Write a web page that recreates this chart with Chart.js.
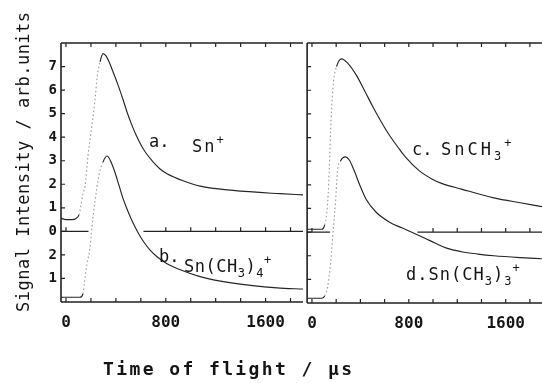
<!DOCTYPE html>
<html>
<head>
<meta charset="utf-8">
<script src="https://cdn.jsdelivr.net/npm/chart.js@4.4.1/dist/chart.umd.min.js"></script>
<style>
html,body{margin:0;padding:0;background:#fff;}
body{width:542px;height:383px;position:relative;overflow:hidden;}
canvas{position:absolute;top:0;}
#cLeft{left:0;width:310px;height:383px;}
#cRight{left:296px;width:246px;height:383px;}
.t{position:absolute;white-space:nowrap;font-family:"DejaVu Sans Mono",monospace;color:#141414;line-height:20px;font-size:17px;}
.sub{font-size:12px;position:relative;top:5px;}
.sup{font-size:12px;position:relative;top:-8px;}
#ytitle{left:-127px;top:152px;width:300px;text-align:center;transform:rotate(-90deg);letter-spacing:0.5px;}
#xtitle{left:103px;top:359px;font-size:18px;letter-spacing:2.4px;font-weight:bold;}
</style>
</head>
<body>
<canvas id="cLeft" width="310" height="383"></canvas>
<canvas id="cRight" width="246" height="383"></canvas>
<div class="t" id="ytitle">Signal Intensity / arb.units</div>
<div class="t" id="xtitle">Time of flight / µs</div>
<div class="t" style="left:149px;top:131px;">a.</div>
<div class="t" style="left:192px;top:136px;letter-spacing:2px;">Sn<span class="sup">+</span></div>
<div class="t" style="left:159px;top:246px;">b.</div>
<div class="t" style="left:184px;top:256px;letter-spacing:0.5px;">Sn(CH<span class="sub">3</span>)<span class="sub">4</span><span class="sup">+</span></div>
<div class="t" style="left:412px;top:139px;">c.</div>
<div class="t" style="left:441px;top:139px;letter-spacing:3px;">SnCH<span class="sub">3</span><span class="sup">+</span></div>
<div class="t" style="left:406px;top:264px;letter-spacing:1px;">d.Sn(CH<span class="sub">3</span>)<span class="sub">3</span><span class="sup">+</span></div>
<script>
// ---- data (time in µs, signal in arb. units) ----
// a. Sn+ (upper left panel)
const TIME_A   = [-40, 0, 48, 80, 104, 120, 136, 152, 176, 200, 233, 249, 273, 297, 321, 345, 377, 417, 457, 497, 529, 561, 593, 634, 698, 754, 810, 938, 1075, 1339, 1716, 1900];
const SIGNAL_A = [0.55, 0.5, 0.5, 0.55, 0.7, 1.1, 1.6, 1.9, 3.2, 4.2, 5.6, 6.5, 7.2, 7.55, 7.45, 7.2, 6.78, 6.22, 5.6, 4.95, 4.5, 4.1, 3.75, 3.38, 2.95, 2.65, 2.45, 2.15, 1.92, 1.74, 1.6, 1.55];
// b. Sn(CH3)4+ (lower left panel, own zero)
const TIME_B   = [-40, 0, 112, 136, 152, 168, 192, 208, 233, 265, 297, 329, 361, 393, 425, 457, 489, 521, 553, 585, 617, 674, 730, 810, 890, 1075, 1339, 1692, 1900];
const SIGNAL_B = [0.2, 0.2, 0.2, 0.35, 1.0, 1.6, 2.3, 3.2, 4.3, 5.4, 5.95, 6.2, 5.95, 5.5, 4.95, 4.4, 3.95, 3.55, 3.2, 2.88, 2.6, 2.2, 1.92, 1.62, 1.42, 1.08, 0.8, 0.6, 0.55];
// c. SnCH3+ (upper right panel)
const TIME_C   = [-40, 0, 81, 105, 122, 138, 154, 162, 179, 203, 244, 300, 365, 438, 503, 568, 633, 706, 771, 885, 990, 1071, 1234, 1502, 1721, 1899];
const SIGNAL_C = [0.12, 0.12, 0.12, 0.3, 0.8, 2.0, 4.3, 5.2, 6.4, 7.0, 7.33, 7.12, 6.65, 5.95, 5.3, 4.7, 4.15, 3.62, 3.18, 2.6, 2.25, 2.06, 1.82, 1.45, 1.24, 1.08];
// d. Sn(CH3)3+ (lower right panel, own zero)
const TIME_D   = [-40, 0, 81, 105, 130, 154, 179, 195, 211, 235, 276, 308, 341, 398, 446, 528, 641, 747, 852, 933, 1015, 1112, 1234, 1372, 1502, 1721, 1899];
const SIGNAL_D = [0.2, 0.2, 0.2, 0.3, 0.7, 1.7, 3.3, 4.3, 5.6, 6.0, 6.18, 6.05, 5.7, 4.95, 4.4, 3.85, 3.42, 3.17, 2.93, 2.74, 2.54, 2.32, 2.17, 2.07, 2.0, 1.92, 1.87];

// ---- axes ----
const TICKS_X = [0, 200, 400, 600, 800, 1000, 1200, 1400, 1600, 1800];
const LABELS_X = [0, 800, 1600];
const TICKS_Y_UPPER = [0, 1, 2, 3, 4, 5, 6, 7];
const TICKS_Y_LOWER = [1, 2];
const LOWER_OFFSET = 3;          // lower panel zero lies 3 units below upper zero
const X_MIN = -40, X_MAX = 1900;
const Y_MIN = -3, Y_MAX = 8;

const toPoints = (t, v, off) => t.map((x, i) => ({x: x, y: v[i] - off}));
const steep = c => (c.p0.y - c.p1.y) > 3 * Math.abs(c.p1.x - c.p0.x);

function lineDs(data) {
  return {
    data: data, borderColor: '#252525', borderWidth: 1.15, pointRadius: 0,
    cubicInterpolationMode: 'monotone', fill: false,
    segment: {
      borderColor: c => steep(c) ? '#9a9a9a' : undefined,
      borderDash: c => steep(c) ? [1.5, 2.5] : undefined
    }
  };
}

const framePlugin = {
  id: 'frame',
  afterDatasetsDraw(chart, args, opts) {
    const {ctx, chartArea: a} = chart;
    const x = chart.scales.x, y = chart.scales.y;
    const zero = y.getPixelForValue(0);
    // gaps in the middle divider where the lower curve rises above it
    const pts = chart.getDatasetMeta(opts.lowerIndex).data;
    const gaps = [];
    let start = null;
    for (let i = 1; i < pts.length; i++) {
      const p0 = pts[i - 1], p1 = pts[i];
      const u0 = p0.y < zero, u1 = p1.y < zero;
      if (u0 !== u1) {
        const t = (zero - p0.y) / (p1.y - p0.y);
        const cx = p0.x + t * (p1.x - p0.x);
        if (u1) start = cx; else { gaps.push([start - 3, cx + 6]); start = null; }
      }
    }
    const inGap = px => gaps.some(g => px > g[0] && px < g[1]);
    ctx.save();
    ctx.strokeStyle = '#222';
    ctx.lineWidth = 1.6;
    ctx.beginPath();
    ctx.moveTo(a.left, a.top); ctx.lineTo(a.right, a.top);
    ctx.moveTo(a.left, a.bottom); ctx.lineTo(a.right, a.bottom);
    ctx.moveTo(a.left, a.top); ctx.lineTo(a.left, a.bottom);
    ctx.stroke();
    // middle divider
    ctx.lineWidth = 1.4;
    ctx.beginPath();
    let cur = a.left;
    gaps.forEach(g => { ctx.moveTo(cur, zero); ctx.lineTo(g[0], zero); cur = g[1]; });
    ctx.moveTo(cur, zero); ctx.lineTo(a.right, zero);
    ctx.stroke();
    // inward tick marks
    ctx.lineWidth = 1.2;
    ctx.beginPath();
    x.ticks.forEach(t => {
      const px = x.getPixelForValue(t.value);
      if (px < a.left + 2 || px > a.right - 1) return;
      ctx.moveTo(px, a.top); ctx.lineTo(px, a.top + 4);
      ctx.moveTo(px, a.bottom); ctx.lineTo(px, a.bottom - 4);
      if (!inGap(px)) { ctx.moveTo(px, zero); ctx.lineTo(px, zero - 4); }
    });
    y.ticks.forEach(t => {
      const py = y.getPixelForValue(t.value);
      ctx.moveTo(a.left, py); ctx.lineTo(a.left + 4, py);
    });
    ctx.stroke();
    ctx.restore();
  }
};

function makeChart(id, upper, lower, cfg) {
  return new Chart(document.getElementById(id), {
    type: 'line',
    data: {datasets: [lineDs(upper), lineDs(lower)]},
    options: {
      responsive: false, animation: false, events: [],
      layout: {padding: {top: 43, left: 0, right: cfg.padRight, bottom: 0}},
      plugins: {legend: {display: false}, tooltip: {enabled: false}, frame: {lowerIndex: 1}},
      scales: {
        x: {
          type: 'linear', min: X_MIN, max: X_MAX,
          grid: {display: false, drawTicks: false}, border: {display: false},
          afterBuildTicks: s => { s.ticks = TICKS_X.map(v => ({value: v})); },
          afterFit: s => { s.height = cfg.xAxisH; },
          ticks: {
            autoSkip: false, maxRotation: 0, padding: 11, color: '#151515',
            font: {family: 'DejaVu Sans Mono', size: 16, weight: 'bold'},
            callback: v => LABELS_X.includes(v) ? String(v) : ''
          }
        },
        y: {
          type: 'linear', min: Y_MIN, max: Y_MAX,
          grid: {display: false, drawTicks: false}, border: {display: false},
          afterBuildTicks: s => {
            s.ticks = TICKS_Y_LOWER.map(v => ({value: v - LOWER_OFFSET}))
              .concat(TICKS_Y_UPPER.map(v => ({value: v})));
          },
          afterFit: s => { s.width = cfg.yAxisW; },
          ticks: {
            display: cfg.showY, padding: 4, color: '#151515',
            font: {family: 'DejaVu Sans Mono', size: 14, weight: 'bold'},
            callback: v => String(v < 0 ? v + LOWER_OFFSET : v)
          }
        }
      }
    },
    plugins: [framePlugin]
  });
}

makeChart('cLeft', toPoints(TIME_A, SIGNAL_A, 0), toPoints(TIME_B, SIGNAL_B, LOWER_OFFSET),
  {padRight: 7, xAxisH: 81, yAxisW: 61, showY: true});
makeChart('cRight', toPoints(TIME_C, SIGNAL_C, 0), toPoints(TIME_D, SIGNAL_D, LOWER_OFFSET),
  {padRight: 0, xAxisH: 80, yAxisW: 7, showY: false});
</script>
</body>
</html>
